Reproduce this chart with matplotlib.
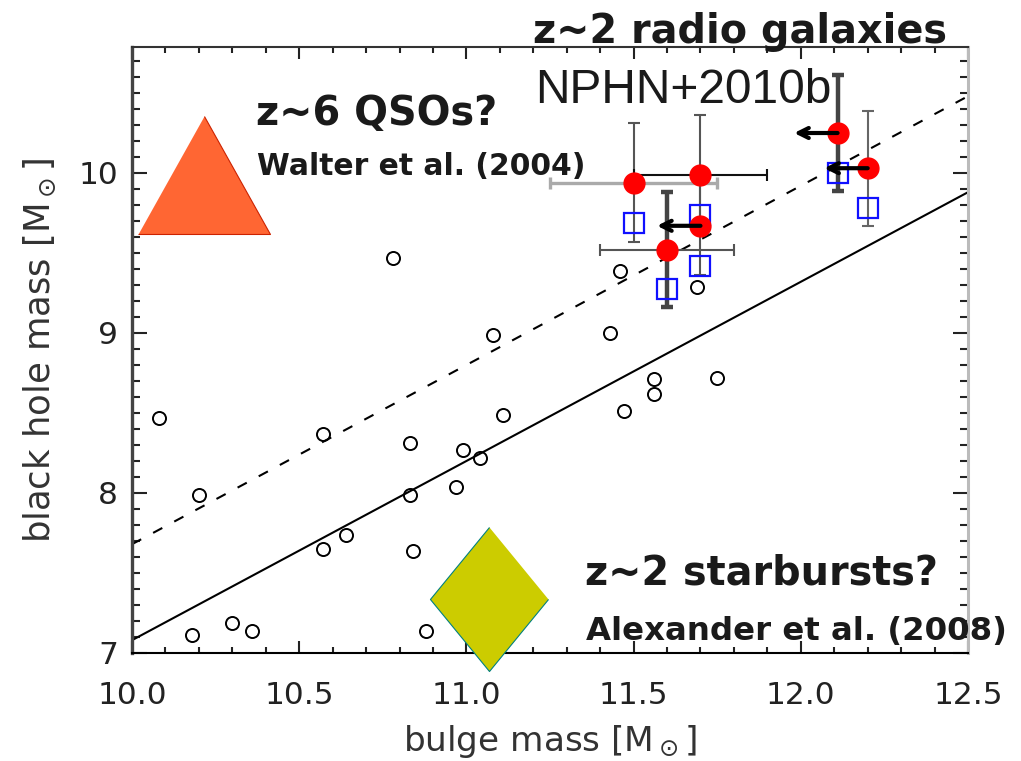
import matplotlib
matplotlib.use("Agg")
import matplotlib.pyplot as plt
from matplotlib.ticker import MultipleLocator, FixedLocator
import numpy as np

# local sample: log bulge mass vs log black hole mass (open circles)
local_mbulge = [10.08, 10.20, 10.18, 10.30, 10.36, 10.57, 10.57, 10.64, 10.78,
                10.83, 10.83, 10.84, 10.88, 10.97, 10.99, 11.04, 11.08, 11.11,
                11.43, 11.46, 11.47, 11.56, 11.56, 11.69, 11.75]
local_mbh = [8.47, 7.99, 7.11, 7.19, 7.14, 8.37, 7.65, 7.74, 9.47,
             8.31, 7.99, 7.64, 7.14, 8.04, 8.27, 8.22, 8.99, 8.49,
             9.00, 9.39, 8.51, 8.71, 8.62, 9.29, 8.72]

# z~2 radio galaxies (NPHN+2010b)
rg_mbulge = [11.50, 11.70, 11.70, 11.60, 12.11, 12.20]
rg_mbh = [9.94, 9.99, 9.67, 9.52, 10.25, 10.03]
rg_mbh_err = [0.37, 0.37, 0.31, 0.36, 0.36, 0.36]
rg_mbulge_err = [0.25, 0.20, 0.0, 0.20, 0.0, 0.0]
rg_upper_limit = [False, False, True, False, True, True]
rg_mbh_alt = [9.69, 9.74, 9.42, 9.275, 10.00, 9.78]   # open blue squares

# relations: log MBH = a + b (log Mbulge - 11)
rel_local = (8.20, 1.12)
rel_offset = (8.80, 1.12)

# other populations
qso_pos = (10.215, 9.99)
smg_pos = (11.068, 7.34)

xticks = [10.0, 10.5, 11.0, 11.5, 12.0, 12.5]
xticklabels = ["10.0", "10.5", "11.0", "11.5", "12.0", "12.5"]
yticks = [7, 8, 9, 10]
yticklabels = ["7", "8", "9", "10"]

fig = plt.figure(figsize=(10.21, 7.61), dpi=100)
ax = fig.add_axes([132 / 1021, 108 / 761, 836 / 1021, 606 / 761])
ax.set_xlim(10.0, 12.5)
ax.set_ylim(7.0, 7.0 + 606 / 160)

# relations
xx = np.array([10.0, 12.5])
ax.plot(xx, rel_local[0] + rel_local[1] * (xx - 11), color="k", lw=1.5, zorder=2)
ax.plot(xx, rel_offset[0] + rel_offset[1] * (xx - 11), color="k", lw=1.5,
        dashes=(5, 6.5), zorder=2)

# local galaxies
ax.plot(local_mbulge, local_mbh, "o", mfc="none", mec="k", ms=9.4, mew=1.4, zorder=3)

# error bars of the radio galaxies
vcol = ["#555555", "#555555", "#555555", "#444444", "#444444", "#666666"]
vlw = [1.5, 1.5, 1.5, 3.2, 3.2, 1.5]
hcol = ["#aaaaaa", "#111111", "#111111", "#555555", "#111111", "#111111"]
hlw = [2.4, 1.5, 1.5, 1.5, 1.5, 1.5]
for i in range(len(rg_mbulge)):
    ax.errorbar(rg_mbulge[i], rg_mbh[i], yerr=rg_mbh_err[i], fmt="none",
                ecolor=vcol[i], elinewidth=vlw[i], capsize=4.3,
                capthick=vlw[i], zorder=3)
    if rg_mbulge_err[i] > 0:
        ax.errorbar(rg_mbulge[i], rg_mbh[i], xerr=rg_mbulge_err[i], fmt="none",
                    ecolor=hcol[i], elinewidth=hlw[i], capsize=4.6,
                    capthick=hlw[i], zorder=3)

ax.plot(rg_mbulge, rg_mbh_alt, "s", mfc="none", mec="#1010ff", ms=14, mew=1.6, zorder=4)
ax.plot(rg_mbulge, rg_mbh, "o", color="#ff0000", ms=15, zorder=5)

arrow_len = 0.13
for x, y, lim in zip(rg_mbulge, rg_mbh, rg_upper_limit):
    if lim:
        ax.annotate("", xy=(x - arrow_len, y), xytext=(x, y),
                    arrowprops=dict(arrowstyle="->", lw=3, color="k",
                                    mutation_scale=18, shrinkA=0, shrinkB=0),
                    zorder=6)

# QSO triangle and starburst diamond
tri = [(-1, -0.894), (1, -0.894), (0, 0.894)]
dia = [(0, 1), (-0.82, 0), (0, -1), (0.82, 0)]
ax.plot(*qso_pos, marker=tri, ms=95, color="#ff6633", mec="#cc2200", mew=0.8,
        zorder=5, clip_on=False)
ax.plot(*smg_pos, marker=dia, ms=103.7, color="#cccc00", mec="#008080", mew=0.8,
        zorder=5, clip_on=False)

# texts
tc = "#1a1a1a"
ax.text(11.20, 10.81, "z~2 radio galaxies", fontsize=28.6, fontweight="bold",
        color=tc, va="baseline", ha="left")
ax.text(11.205, 10.44, "NPHN+2010b", fontsize=34.5, family="Liberation Sans",
        color=tc, va="baseline", ha="left")
ax.text(10.37, 10.30, "z~6 QSOs?", fontsize=28.6, fontweight="bold",
        color=tc, va="baseline", ha="left")
ax.text(10.374, 9.99, "Walter et al. (2004)", fontsize=21.4, fontweight="bold",
        color=tc, va="baseline", ha="left")
ax.text(11.355, 7.425, "z~2 starbursts?", fontsize=28.6, fontweight="bold",
        color=tc, va="baseline", ha="left", zorder=7)
ax.text(11.358, 7.08, "Alexander et al. (2008)", fontsize=23.3, fontweight="bold",
        color=tc, va="baseline", ha="left", zorder=7)

# axes styling
ax.xaxis.set_major_locator(FixedLocator(xticks))
ax.set_xticklabels(xticklabels)
ax.yaxis.set_major_locator(FixedLocator(yticks))
ax.set_yticklabels(yticklabels)
ax.xaxis.set_minor_locator(MultipleLocator(0.1))
ax.yaxis.set_minor_locator(MultipleLocator(0.1))
ax.tick_params(which="both", direction="in", top=True, right=True,
               colors="#222222", width=1.5)
ax.tick_params(axis="x", which="major", length=8.6, pad=20, labelsize=22.5,
               labelcolor="#222222")
ax.tick_params(axis="x", which="minor", length=4.3)
ax.tick_params(axis="y", which="major", length=10.8, pad=10, labelsize=22.5,
               labelcolor="#222222")
ax.tick_params(axis="y", which="minor", length=5.8)

ax.spines["left"].set_color("#444444")
ax.spines["left"].set_linewidth(2.4)
ax.spines["top"].set_color("#333333")
ax.spines["top"].set_linewidth(1.5)
ax.spines["right"].set_color("#bbbbbb")
ax.spines["right"].set_linewidth(2.2)
ax.spines["bottom"].set_color("black")
ax.spines["bottom"].set_linewidth(1.5)

ax.set_xlabel(r"bulge mass [M$_\odot$]", fontsize=24.7, color="#333333")
ax.set_ylabel(r"black hole mass [M$_\odot$]", fontsize=25.5, color="#333333")
ax.xaxis.set_label_coords(0.5, -0.1155)
ax.yaxis.set_label_coords(-0.0885, 0.5)

fig.savefig("out.png", dpi=100)
